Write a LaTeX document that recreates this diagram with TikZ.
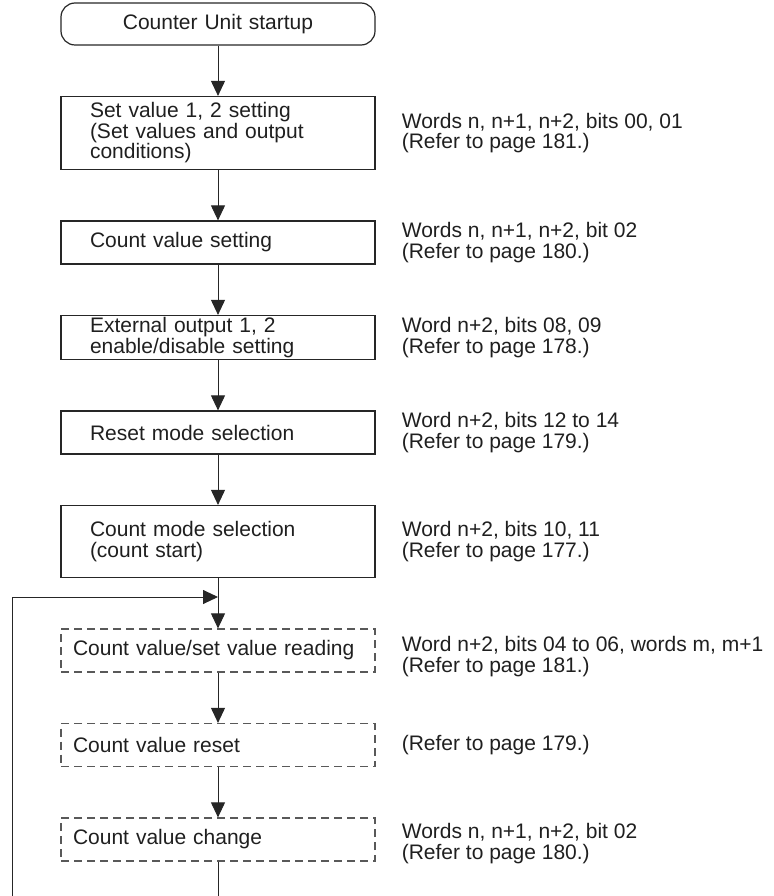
\documentclass[tikz,border=0pt]{standalone}
\usepackage{fontspec}
\setmainfont{Liberation Sans}
\usepackage{tikz}
\usetikzlibrary{positioning,arrows.meta}

\begin{document}
\begin{tikzpicture}[x=1pt,y=-1pt,node distance=50.3pt,>={Triangle[length=15pt,width=14pt]},
  every node/.style={font=\fontsize{21}{20.5}\selectfont,text=black!88},
  l/.style={draw=black!85,line width=0.9pt},
  b/.style={draw=black!85,line width=1.2pt,minimum width=314pt,text width=256pt,inner xsep=29pt,inner ysep=0pt,align=left,minimum height=43pt},
  db/.style={b,draw=black!65,dash pattern=on 8pt off 5pt,text width=290pt,inner xsep=12pt},
  st/.style={b,rounded corners=14pt,align=center,minimum height=42pt},
  n/.style={inner sep=0pt,align=left,anchor=west}]
\useasboundingbox (0,0) rectangle (773,896);
\node[st] (s) at (218,24) {Counter Unit startup};
\node[b,below=of s,minimum height=73pt] (sv) {Set value 1, 2 setting\\(Set values and output\\conditions)};
\node[b,below=of sv] (cv) {Count value setting};
\node[b,below=of cv,minimum height=44pt] (eo) {External output 1, 2\\enable/disable setting};
\node[b,below=of eo] (rm) {Reset mode selection};
\node[b,below=of rm,minimum height=72pt] (cm) {Count mode selection\\(count start)};
\node[db,below=of cm] (rd) {Count value/set value reading};
\node[db,below=of rd] (rs) {Count value reset};
\node[db,below=of rs] (ch) {Count value change};
\node[n,right=26pt of sv] (nsv) {Words n, n+1, n+2, bits 00, 01\\(Refer to page 181.)};
\node[n,right=26pt of cv] (ncv) {Words n, n+1, n+2, bit 02\\(Refer to page 180.)};
\node[n,right=26pt of eo] (neo) {Word n+2, bits 08, 09\\(Refer to page 178.)};
\node[n,right=26pt of rm] (nrm) {Word n+2, bits 12 to 14\\(Refer to page 179.)};
\node[n,right=26pt of cm] (ncm) {Word n+2, bits 10, 11\\(Refer to page 177.)};
\node[n,right=26pt of rd,yshift=-6pt] (nrd) {Word n+2, bits 04 to 06, words m, m+1\\(Refer to page 181.)};
\node[n,right=26pt of rs] (nrs) {(Refer to page 179.)};
\node[n,right=26pt of ch,yshift=-4pt] (nch) {Words n, n+1, n+2, bit 02\\(Refer to page 180.)};
\coordinate (j) at (218,597); \coordinate (e) at (218,896); \coordinate (lp) at (12,896);
\draw[l,->] (s)--(sv); \draw[l,->] (sv)--(cv); \draw[l,->] (cv)--(eo); \draw[l,->] (eo)--(rm); \draw[l,->] (rm)--(cm);
\draw[l,->] (cm)--(rd); \draw[l,->] (rd)--(rs); \draw[l,->] (rs)--(ch); \draw[l] (ch)--(e); \draw[l,->] (lp)|-(j);
\end{tikzpicture}
\end{document}
